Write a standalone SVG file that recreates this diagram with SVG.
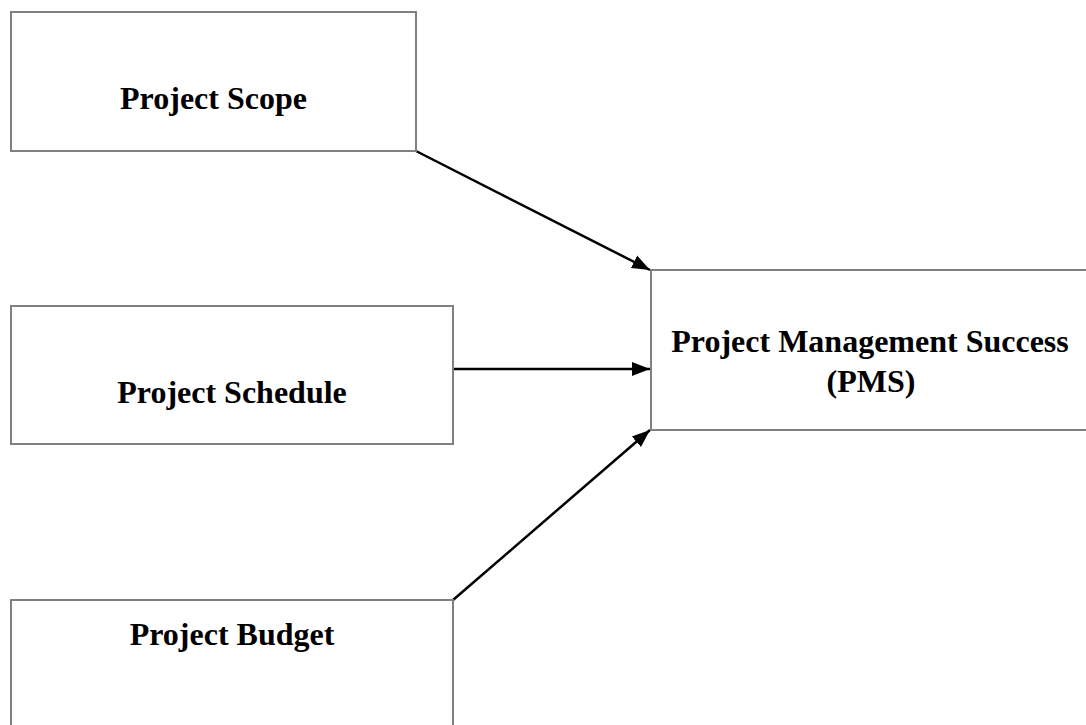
<svg xmlns="http://www.w3.org/2000/svg" width="1086" height="725" viewBox="0 0 1086 725">
  <style>
    .box { fill: #ffffff; stroke: #808080; stroke-width: 2; }
    .label { font-family: "Liberation Serif", "Times New Roman", serif; font-weight: bold; font-size: 32px; fill: #000000; text-anchor: middle; }
    .edge { stroke: #000000; stroke-width: 2.5; fill: none; marker-end: url(#arrow); }
  </style>
  <defs>
    <marker id="arrow" markerUnits="userSpaceOnUse" markerWidth="20" markerHeight="16" viewBox="0 0 20 16" refX="18" refY="8" orient="auto">
      <path d="M0,1 L18,8 L0,15 Z" fill="#000000"/>
    </marker>
  </defs>
  <rect width="1086" height="725" fill="#ffffff"/>

  <g id="connectors">
    <line class="edge" x1="416" y1="151" x2="650" y2="270"/>
    <line class="edge" x1="453" y1="369" x2="650" y2="369"/>
    <line class="edge" x1="453" y1="600" x2="650" y2="430"/>
  </g>

  <g id="scope">
    <rect class="box" x="11" y="12" width="405" height="139"/>
    <text class="label" x="213.5" y="109">Project Scope</text>
  </g>

  <g id="schedule">
    <rect class="box" x="11" y="306" width="442" height="138"/>
    <text class="label" x="232" y="403">Project Schedule</text>
  </g>

  <g id="budget">
    <rect class="box" x="11" y="600" width="442" height="140"/>
    <text class="label" x="232" y="645">Project Budget</text>
  </g>

  <g id="pms">
    <rect class="box" x="651" y="270" width="450" height="160"/>
    <text class="label" x="870" y="352">Project Management Success</text>
    <text class="label" x="871" y="392">(PMS)</text>
  </g>
</svg>
